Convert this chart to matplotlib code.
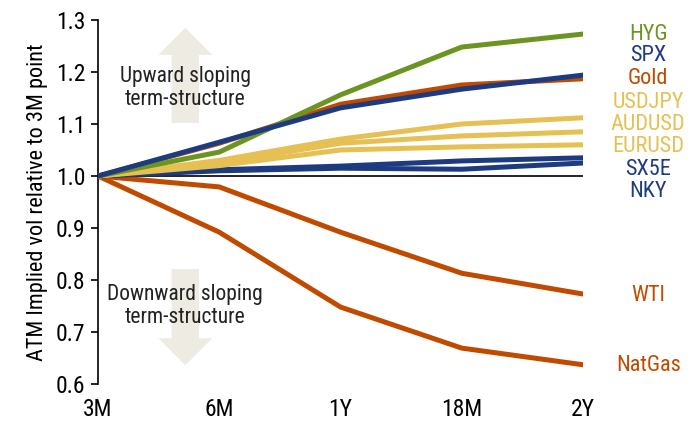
import matplotlib
matplotlib.use('Agg')
import matplotlib.pyplot as plt
from matplotlib import font_manager
from matplotlib.patches import FancyArrow

avail = set(f.name for f in font_manager.fontManager.ttflist)
wanted = ['Liberation Sans Narrow', 'DejaVu Sans Condensed', 'Roboto Condensed',
          'Open Sans Condensed', 'Liberation Sans', 'DejaVu Sans']
plt.rcParams['font.family'] = [f for f in wanted if f in avail]
plt.rcParams['font.stretch'] = 'condensed'

tenors = ['3M', '6M', '1Y', '18M', '2Y']
names = ['HYG', 'SPX', 'Gold', 'USDJPY', 'AUDUSD', 'EURUSD', 'SX5E', 'NKY', 'WTI', 'NatGas']
values = [
    [1.0, 1.046, 1.156, 1.248, 1.273],  # HYG
    [1.0, 1.065, 1.131, 1.167, 1.194],  # SPX
    [1.0, 1.063, 1.138, 1.175, 1.187],  # Gold
    [1.0, 1.030, 1.071, 1.100, 1.112],  # USDJPY
    [1.0, 1.025, 1.063, 1.077, 1.085],  # AUDUSD
    [1.0, 1.020, 1.050, 1.056, 1.060],  # EURUSD
    [1.0, 1.012, 1.019, 1.029, 1.035],  # SX5E
    [1.0, 1.010, 1.015, 1.013, 1.025],  # NKY
    [1.0, 0.979, 0.892, 0.813, 0.773],  # WTI
    [1.0, 0.892, 0.748, 0.669, 0.637],  # NatGas
]
label_y = [1.273, 1.231, 1.187, 1.142, 1.100, 1.056, 1.013, 0.971, 0.771, 0.635]

green = '#6b9520'
blue = '#1d3b80'
orange = '#c04b00'
yellow = '#e6c052'
colors = [green, blue, orange, yellow, yellow, yellow, blue, blue, orange, orange]

fig = plt.figure(figsize=(6.89, 4.25), dpi=100)
ax = fig.add_axes([98/689, 41/425, 485/689, 364/425])

x = list(range(len(tenors)))
# background arrows
ax.add_patch(FancyArrow(0.72, 1.102, 0, 0.183, width=0.225, head_width=0.445,
                        head_length=0.052, length_includes_head=True,
                        color='#edebe2', lw=0, zorder=0))
ax.add_patch(FancyArrow(0.72, 0.821, 0, -0.185, width=0.225, head_width=0.445,
                        head_length=0.052, length_includes_head=True,
                        color='#edebe2', lw=0, zorder=0))
ax.text(0.72, 1.169, 'Upward sloping\nterm-structure', ha='center', va='center',
        fontsize=15.5, color='#222222', linespacing=1.1, zorder=1)
ax.text(0.72, 0.75, 'Downward sloping\nterm-structure', ha='center', va='center',
        fontsize=15.5, color='#222222', linespacing=1.1, zorder=1)

ax.plot([0, 4], [1.0, 1.0], color='black', lw=1.2, zorder=2)

order = [9, 8, 7, 6, 5, 4, 3, 2, 0, 1]
for i in order:
    ax.plot(x, values[i], color=colors[i], lw=3.6, solid_capstyle='round', zorder=3)

for i, n in enumerate(names):
    ax.annotate(n, xy=(4, label_y[i]), xytext=(47, 0), textcoords='offset points',
                ha='center', va='center', fontsize=16, color=colors[i],
                annotation_clip=False)

ax.set_xlim(0, 4)
ax.set_ylim(0.6, 1.3)
ax.set_xticks(x)
ax.set_xticklabels(tenors)
ax.set_yticks([0.6, 0.7, 0.8, 0.9, 1.0, 1.1, 1.2, 1.3])
ax.set_yticklabels(['0.6', '0.7', '0.8', '0.9', '1.0', '1.1', '1.2', '1.3'])
for s in ['top', 'right', 'bottom']:
    ax.spines[s].set_visible(False)
ax.spines['left'].set_linewidth(1.2)
ax.tick_params(axis='y', direction='out', length=5, width=1.2, labelsize=17, pad=4)
ax.tick_params(axis='x', length=0, labelsize=17, pad=10)
ax.set_ylabel('ATM Implied vol relative to 3M point', fontsize=16, labelpad=6)

fig.savefig('out.png', dpi=100)
